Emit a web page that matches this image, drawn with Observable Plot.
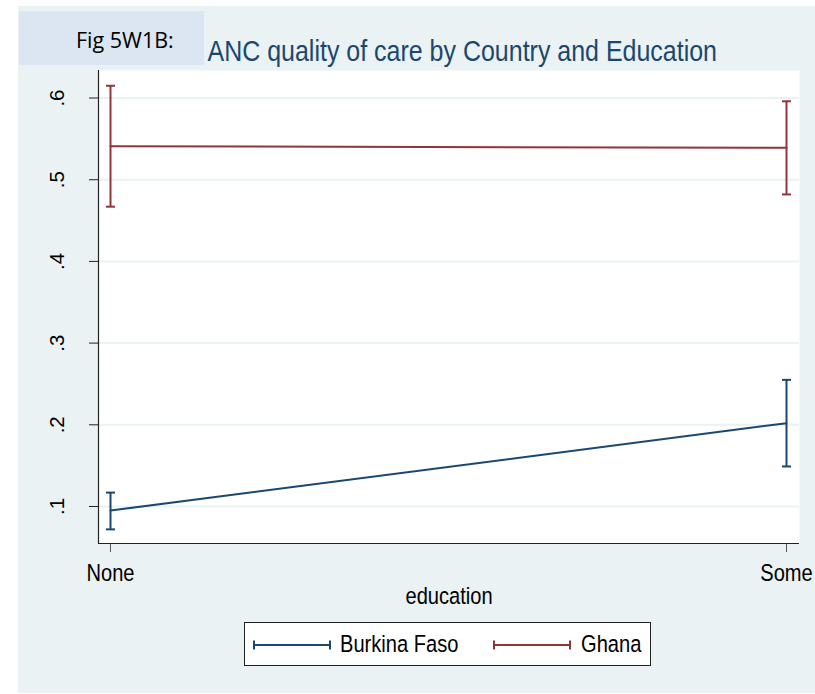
<!DOCTYPE html>
<html>
<head>
<meta charset="utf-8">
<script src="https://cdn.jsdelivr.net/npm/d3@7"></script>
<script src="https://cdn.jsdelivr.net/npm/@observablehq/plot@0.6"></script>
<style>
  html, body { margin: 0; padding: 0; background: #ffffff; }
  #chart { position: relative; width: 815px; height: 694px; overflow: hidden; font-family: "Liberation Sans", Arial, sans-serif; }
  #bg { position: absolute; left: 18px; top: 6px; width: 797px; height: 687px; background: #eaf2f3; }
  #plot { position: absolute; left: 0; top: 0; }
  #tag { position: absolute; left: 19px; top: 11px; width: 185px; height: 54px; background: #dce6f2; }
  #tag span { position: absolute; left: 57px; top: 18px; font-family: "Open Sans", sans-serif; font-size: 21.5px; line-height: 1; color: #000; white-space: nowrap; }
  #legend { position: absolute; left: 244px; top: 622px; width: 405px; height: 42px; background: #ffffff; border: 1px solid #222; }
  #legend .sw { position: absolute; top: 16px; }
  #legend .lab { position: absolute; top: 9.3px; font-family: "Liberation Sans", Arial, sans-serif; font-size: 24.5px; line-height: 1; color: #000; white-space: nowrap; transform: scaleX(0.82); transform-origin: 0 0; }
</style>
</head>
<body>
<div id="chart">
  <div id="bg"></div>
  <div id="plot"></div>
  <div id="tag"><span></span></div>
  <div id="legend"></div>
</div>
<script>
// Categories and series
const education = ["None", "Some"];
const countries = ["Burkina Faso", "Ghana"];
const colors = ["#1a476f", "#90353b"];

// Mean ANC quality score with confidence interval, by education level
const burkinaMean = [0.095, 0.202];
const burkinaLow  = [0.072, 0.149];
const burkinaHigh = [0.117, 0.255];
const ghanaMean = [0.541, 0.539];
const ghanaLow  = [0.467, 0.482];
const ghanaHigh = [0.615, 0.596];

const yTicks = [0.1, 0.2, 0.3, 0.4, 0.5, 0.6];
const title = "ANC quality of care by Country and Education";
const figTag = "Fig 5W1B:";
const xLabel = "education";

const means = [burkinaMean, ghanaMean];
const lows = [burkinaLow, ghanaLow];
const highs = [burkinaHigh, ghanaHigh];

const rows = countries.flatMap((country, k) =>
  education.map((e, i) => ({country, i, mean: means[k][i], lo: lows[k][i], hi: highs[k][i]}))
);
const caps = rows.flatMap(r => [{...r, y: r.lo}, {...r, y: r.hi}]);

// Horizontal cap drawn as a dot symbol; half width equals r
const capSymbol = {
  draw(ctx, size) {
    const w = Math.sqrt(size / Math.PI);
    ctx.moveTo(-w, 0);
    ctx.lineTo(w, 0);
  }
};

const sans = "'Liberation Sans', Arial, sans-serif";
const xDomain = [-0.01775, 1.01923];
const yDomain = [0.0547, 0.6337];
const fmt = d => d3.format(".1f")(d).replace(/^0/, "");

const chart = Plot.plot({
  width: 815,
  height: 694,
  marginTop: 70,
  marginRight: 16,
  marginBottom: 151,
  marginLeft: 98,
  style: {background: "transparent", fontFamily: sans, overflow: "visible"},
  x: {type: "linear", domain: xDomain},
  y: {domain: yDomain},
  color: {domain: countries, range: colors},
  marks: [
    Plot.frame({fill: "#ffffff", stroke: "none"}),
    Plot.gridY(yTicks, {stroke: "#eaf2f3", strokeOpacity: 1, strokeWidth: 2}),
    Plot.axisY({ticks: yTicks, tickSize: 9, tickFormat: () => "", label: null, stroke: "#222"}),
    Plot.axisX({ticks: [0, 1], tickSize: 9, tickFormat: () => "", label: null, stroke: "#555"}),
    Plot.ruleX([xDomain[0]], {stroke: "#222", strokeWidth: 1.2}),
    Plot.ruleY([yDomain[0]], {stroke: "#222", strokeWidth: 1.2}),
    Plot.text(yTicks, {
      y: d => d, text: fmt, frameAnchor: "left", dx: -35, rotate: -90,
      lineAnchor: "bottom", textAnchor: "middle", fontSize: 20.5, fill: "#000"
    }),
    // condensed labels: the condense factor rides in stroke-opacity (no stroke is drawn)
    Plot.text(education.map((e, i) => ({e, i})), {
      x: "i", text: "e", frameAnchor: "bottom", dy: 37, lineAnchor: "bottom",
      fontSize: 24.5, fill: "#000", stroke: "none", strokeOpacity: 0.82
    }),
    Plot.text([xLabel], {
      frameAnchor: "bottom", dy: 60, lineAnchor: "bottom",
      fontSize: 24.5, fill: "#000", stroke: "none", strokeOpacity: 0.82
    }),
    Plot.text([title], {
      frameAnchor: "top-left", dx: 109, dy: -10, lineAnchor: "bottom", textAnchor: "start",
      fontSize: 30, fill: "#1a476f", stroke: "none", strokeOpacity: 0.833
    }),
    Plot.line(rows, {x: "i", y: "mean", z: "country", stroke: "country", strokeWidth: 2}),
    Plot.ruleX(rows, {x: "i", y1: "lo", y2: "hi", stroke: "country", strokeWidth: 2}),
    Plot.dot(caps, {x: "i", y: "y", symbol: capSymbol, r: 4.5, stroke: "country", fill: "none", strokeWidth: 2})
  ]
});
document.getElementById("plot").appendChild(chart);

// Squeeze the condensed labels horizontally about their anchor point
d3.select(chart).selectAll("g[stroke-opacity] > text").each(function() {
  const factor = +this.parentNode.getAttribute("stroke-opacity");
  const x = +(this.getAttribute("x") || 0);
  const y = +(this.getAttribute("y") || 0);
  const t = this.getAttribute("transform") || "";
  this.removeAttribute("x");
  this.removeAttribute("y");
  this.setAttribute("transform", `${t} translate(${x},${y}) scale(${factor},1)`.trim());
});

document.querySelector("#tag span").textContent = figTag;

// Legend: swatch line with end caps plus country name
const legend = document.getElementById("legend");
const swatchLeft = [8, 248];
const labelLeft = [95, 336];
countries.forEach((c, k) => {
  const ns = "http://www.w3.org/2000/svg";
  const svg = document.createElementNS(ns, "svg");
  svg.setAttribute("class", "sw");
  svg.setAttribute("width", 78);
  svg.setAttribute("height", 12);
  svg.style.left = swatchLeft[k] + "px";
  const path = document.createElementNS(ns, "path");
  path.setAttribute("d", "M1,6H77M1,1.5V10.5M77,1.5V10.5");
  path.setAttribute("stroke", colors[k]);
  path.setAttribute("stroke-width", 2);
  path.setAttribute("fill", "none");
  svg.appendChild(path);
  legend.appendChild(svg);
  const lab = document.createElement("span");
  lab.className = "lab";
  lab.style.left = labelLeft[k] + "px";
  lab.textContent = c;
  legend.appendChild(lab);
});
</script>
</body>
</html>
